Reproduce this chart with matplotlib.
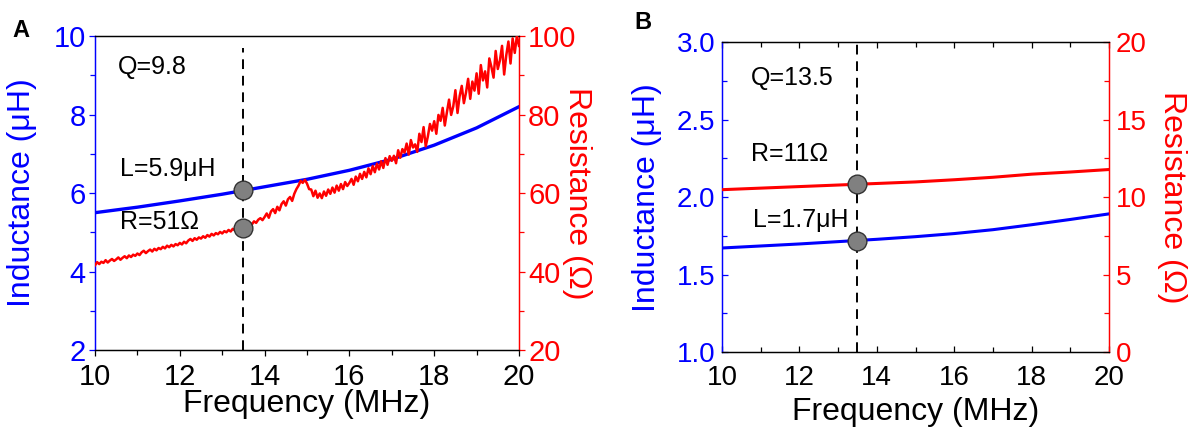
import numpy as np
import matplotlib
matplotlib.use("Agg")
import matplotlib.pyplot as plt
from matplotlib.ticker import MultipleLocator, FormatStrFormatter

plt.rcParams['font.family'] = ['Liberation Sans', 'DejaVu Sans']

BLUE = '#0000FF'
RED = '#FF0000'

# ---------------- Panel A data ----------------
freq_A_L = [10, 11, 12, 13, 14, 15, 16, 17, 18, 19, 20]
ind_A = [5.50, 5.64, 5.80, 5.97, 6.16, 6.35, 6.58, 6.86, 7.22, 7.66, 8.20]

freq_A_R = np.round(np.arange(10.0, 20.001, 0.05), 2)
res_A = [
    41.6, 42.4, 41.9, 42.5, 42.2, 42.9, 42.3, 42.8, 43.2, 42.7, 43.1, 43.6, 43.0, 43.5, 43.9, 43.4, 44.1, 43.7, 44.3, 44.0,
    44.6, 44.2, 44.9, 45.3, 44.7, 45.2, 45.6, 45.1, 45.8, 45.4, 46.0, 45.7, 46.3, 45.9, 46.6, 46.2, 46.8, 46.4, 47.0, 46.7,
    47.3, 46.9, 47.6, 47.2, 47.9, 48.3, 47.8, 48.5, 48.1, 48.7, 48.4, 49.0, 48.6, 49.3, 48.9, 49.6, 49.2, 49.8, 49.5, 50.1,
    49.7, 50.3, 50.0, 50.6, 50.2, 50.9, 50.5, 51.2, 50.8, 51.5, 51.3, 51.9, 51.6, 52.3, 52.0, 52.8, 52.4, 53.2, 53.6, 53.1,
    53.9, 54.8, 53.7, 55.3, 55.9, 54.9, 56.5, 55.6, 57.2, 57.9, 56.8, 58.4, 59.0, 58.0, 59.8, 61.0, 61.9, 63.1, 62.6, 63.4,
    62.4, 61.0, 60.9, 59.2, 60.6, 58.8, 59.9, 58.7, 60.4, 59.3, 60.9, 59.8, 61.4, 60.1, 61.9, 60.6, 62.3, 61.0, 62.8, 61.8,
    62.6, 63.6, 62.1, 64.2, 63.0, 64.9, 63.6, 65.4, 64.0, 66.3, 64.8, 66.9, 65.3, 67.5, 66.0, 68.1, 66.4, 68.9, 67.2, 69.4,
    68.2, 69.5, 67.6, 70.9, 69.0, 71.2, 70.3, 72.6, 69.8, 73.5, 71.6, 72.4, 70.5, 75.1, 73.0, 76.8, 71.9, 74.4, 77.6, 75.9,
    78.3, 75.1, 79.9, 78.4, 81.7, 77.2, 80.6, 83.8, 79.9, 82.1, 86.2, 80.4, 84.7, 87.3, 82.9, 85.6, 89.1, 84.0, 88.4, 86.1,
    90.5, 85.3, 92.6, 88.7, 91.0, 86.9, 94.3, 92.1, 89.4, 96.2, 91.6, 93.8, 97.5, 90.2, 95.1, 98.6, 93.0, 99.4, 95.7, 100.0,
    97.5,
]

# ---------------- Panel B data ----------------
freq_B = [10, 11, 12, 13, 14, 15, 16, 17, 18, 19, 20]
ind_B = [1.672, 1.685, 1.698, 1.713, 1.728, 1.745, 1.765, 1.790, 1.822, 1.856, 1.892]
res_B = [10.48, 10.58, 10.68, 10.78, 10.88, 10.98, 11.12, 11.28, 11.48, 11.62, 11.78]

# operating points
f0 = 13.5
L_A_pt, R_A_pt = 6.08, 51.0
L_B_pt, R_B_pt = 1.72, 10.83

fig = plt.figure(figsize=(11.92, 4.29), dpi=100)

LAB_FS = 23
ANN_FS = 18
MARK = dict(marker='o', markersize=13.5, markerfacecolor='#808080',
            markeredgecolor='#333333', markeredgewidth=1.0, linestyle='none', zorder=10)


def style_axes(ax, ax2, direction, fs):
    for a in (ax, ax2):
        for s in a.spines.values():
            s.set_linewidth(0.9)
        a.spines['left'].set_color(BLUE)
        a.spines['right'].set_color(RED)
        a.spines['top'].set_color('black')
        a.spines['bottom'].set_color('black')
    ax.tick_params(axis='y', which='both', colors=BLUE, direction=direction,
                   labelsize=fs, width=0.9)
    ax2.tick_params(axis='y', which='both', colors=RED, direction=direction,
                    labelsize=fs, width=0.9)
    ax.tick_params(axis='x', which='both', direction=direction, labelsize=fs,
                   width=0.9, top=(direction == 'in'))
    for a in (ax, ax2):
        a.tick_params(which='major', length=4.5)
        a.tick_params(which='minor', length=3.5)


def axis_texts(ax, xl, yl, yr, xlab_y, yl_x, yr_x):
    ax.text(0.5, xlab_y, xl, transform=ax.transAxes, ha='center', va='center',
            fontsize=LAB_FS)
    ax.text(yl_x, 0.5, yl, transform=ax.transAxes, ha='center', va='center',
            fontsize=LAB_FS, rotation=90, color=BLUE)
    ax.text(yr_x, 0.5, yr, transform=ax.transAxes, ha='center', va='center',
            fontsize=LAB_FS, rotation=270, color=RED)


# ---------------- Panel A ----------------
axA = fig.add_axes([0.0797, 0.184, 0.3557, 0.732])
axA2 = axA.twinx()
axA.plot(freq_A_L, ind_A, color=BLUE, lw=2.4, zorder=3)
axA2.plot(freq_A_R, res_A, color=RED, lw=1.8, zorder=3)
axA.plot([f0, f0], [2.0, 9.7], color='black', lw=1.4, linestyle=(0, (5, 3.5)), zorder=2)
axA.plot([f0], [L_A_pt], **MARK)
axA2.plot([f0], [R_A_pt], **MARK)
axA.set_xlim(10, 20)
axA.set_ylim(2, 10)
axA2.set_ylim(20, 100)
axA.xaxis.set_major_locator(MultipleLocator(2))
axA.xaxis.set_minor_locator(MultipleLocator(1))
axA.yaxis.set_major_locator(MultipleLocator(2))
axA.yaxis.set_minor_locator(MultipleLocator(1))
axA2.yaxis.set_major_locator(MultipleLocator(20))
axA2.yaxis.set_minor_locator(MultipleLocator(10))
style_axes(axA, axA2, 'out', 21)
axA.tick_params(axis='x', pad=5)
axA.tick_params(axis='y', pad=2)
axA2.tick_params(axis='y', pad=2)
axis_texts(axA, 'Frequency (MHz)', 'Inductance (\u03bcH)', 'Resistance (\u03a9)',
           -0.172, -0.172, 1.137)
axA.text(10.55, 9.2, 'Q=9.8', fontsize=ANN_FS, va='center', ha='left')
axA.text(10.6, 6.62, 'L=5.9\u03bcH', fontsize=ANN_FS, va='center', ha='left')
axA.text(10.6, 5.25, 'R=51\u03a9', fontsize=ANN_FS, va='center', ha='left')
fig.text(0.010, 0.928, 'A', fontsize=17, fontweight='bold', ha='left', va='center')

# ---------------- Panel B ----------------
axB = fig.add_axes([0.6057, 0.179, 0.3247, 0.723])
axB2 = axB.twinx()
axB.plot(freq_B, ind_B, color=BLUE, lw=2.2, zorder=3)
axB2.plot(freq_B, res_B, color=RED, lw=2.2, zorder=3)
axB.plot([f0, f0], [1.0, 3.0], color='black', lw=1.4, linestyle=(0, (5, 3.5)), zorder=2)
axB.plot([f0], [L_B_pt], **MARK)
axB2.plot([f0], [R_B_pt], **MARK)
axB.set_xlim(10, 20)
axB.set_ylim(1.0, 3.0)
axB2.set_ylim(0, 20)
axB.xaxis.set_major_locator(MultipleLocator(2))
axB.xaxis.set_minor_locator(MultipleLocator(1))
axB.yaxis.set_major_locator(MultipleLocator(0.5))
axB.yaxis.set_minor_locator(MultipleLocator(0.25))
axB.yaxis.set_major_formatter(FormatStrFormatter('%.1f'))
axB2.yaxis.set_major_locator(MultipleLocator(5))
axB2.yaxis.set_minor_locator(MultipleLocator(2.5))
style_axes(axB, axB2, 'in', 20)
axB.tick_params(axis='x', pad=9)
axB.tick_params(axis='y', pad=5)
axB2.tick_params(axis='y', pad=5)
axis_texts(axB, 'Frequency (MHz)', 'Inductance (\u03bcH)', 'Resistance (\u03a9)',
           -0.192, -0.195, 1.163)
axB.text(10.74, 2.77, 'Q=13.5', fontsize=ANN_FS, va='center', ha='left')
axB.text(10.76, 2.28, 'R=11\u03a9', fontsize=ANN_FS, va='center', ha='left')
axB.text(10.8, 1.85, 'L=1.7\u03bcH', fontsize=ANN_FS, va='center', ha='left')
fig.text(0.532, 0.948, 'B', fontsize=17, fontweight='bold', ha='left', va='center')

fig.savefig('out.png', dpi=100)
